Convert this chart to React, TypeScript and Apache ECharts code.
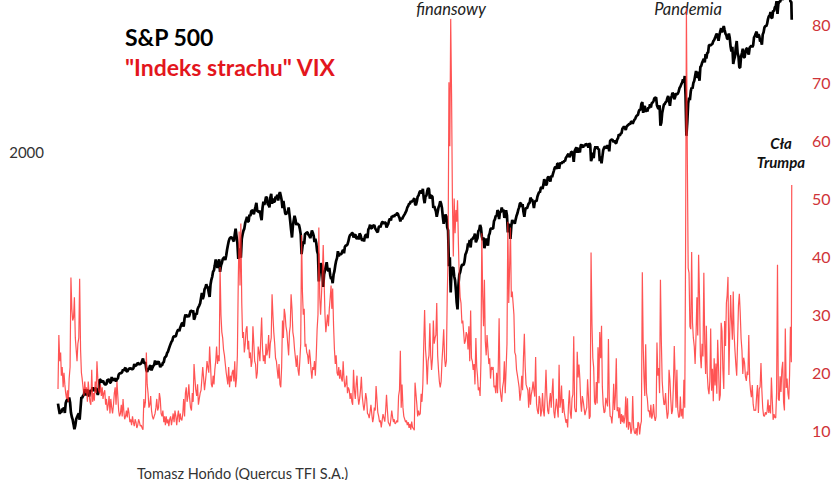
import React, { useEffect, useRef } from 'react';
import * as echarts from 'echarts';

// Semi-monthly samples (1st and 16th of each month) from Jan 1990, last point 8 Apr 2025
const startYear = 1990;
const lastPointDate = [2025, 3, 8];

// S&P 500 index level
const spxValues = [
  353, 340, 329, 334, 332, 341, 339, 344, 331, 354, 361, 363, 358, 368, 356, 332, 322, 316, 306, 296, 304, 317, 322, 326,
  330, 316, 343, 369, 367, 373, 375, 390, 375, 377, 389, 381, 371, 384, 387, 385, 395, 386, 388, 392, 392, 382, 375, 384,
  417, 416, 409, 412, 413, 408, 403, 403, 404, 416, 415, 418, 408, 408, 424, 417, 414, 420, 418, 411, 419, 419, 431, 434,
  436, 436, 439, 447, 443, 449, 452, 442, 440, 445, 450, 449, 451, 448, 448, 450, 464, 458, 459, 462, 468, 465, 462, 465,
  466, 474, 482, 468, 467, 469, 446, 439, 451, 446, 457, 459, 444, 452, 458, 461, 475, 466, 463, 470, 472, 465, 454, 460,
  459, 468, 470, 484, 487, 490, 501, 505, 515, 524, 533, 541, 545, 558, 562, 561, 562, 575, 584, 588, 582, 596, 605, 614,
  616, 600, 636, 653, 640, 650, 646, 642, 654, 670, 669, 665, 671, 630, 640, 660, 652, 677, 687, 694, 705, 731, 757, 726,
  741, 776, 786, 804, 791, 787, 757, 737, 801, 829, 848, 878, 885, 916, 954, 925, 899, 930, 955, 876, 915, 930, 955, 963,
  970, 950, 980, 1020, 1049, 1080, 1102, 1110, 1112, 1105, 1091, 1080, 1134, 1180, 1121, 1070, 957, 1030, 990, 965, 1099, 1135, 1164, 1180,
  1229, 1250, 1280, 1240, 1238, 1300, 1286, 1330, 1335, 1340, 1302, 1340, 1373, 1410, 1329, 1330, 1320, 1335, 1283, 1250, 1363, 1420, 1389, 1420,
  1469, 1460, 1394, 1390, 1366, 1460, 1499, 1400, 1452, 1420, 1421, 1470, 1455, 1490, 1431, 1490, 1518, 1480, 1437, 1360, 1429, 1370, 1315, 1300,
  1320, 1320, 1366, 1300, 1240, 1170, 1110, 1200, 1249, 1290, 1256, 1210, 1224, 1215, 1211, 1180, 1134, 990, 1041, 1080, 1060, 1140, 1139, 1150,
  1148, 1130, 1122, 1105, 1130, 1165, 1147, 1125, 1076, 1100, 1067, 1010, 990, 820, 880, 930, 916, 870, 790, 860, 886, 910, 936, 890,
  880, 900, 856, 834, 841, 810, 860, 880, 917, 945, 964, 1010, 975, 990, 990, 990, 1008, 1020, 996, 1040, 1051, 1050, 1058, 1080,
  1112, 1130, 1131, 1145, 1145, 1110, 1126, 1135, 1107, 1100, 1121, 1095, 1141, 1130, 1102, 1085, 1104, 1080, 1115, 1130, 1130, 1105, 1174, 1185,
  1212, 1185, 1181, 1205, 1204, 1210, 1181, 1170, 1157, 1150, 1192, 1200, 1191, 1215, 1234, 1235, 1220, 1230, 1229, 1190, 1207, 1220, 1249, 1265,
  1248, 1285, 1280, 1290, 1281, 1300, 1295, 1310, 1311, 1290, 1270, 1240, 1270, 1260, 1277, 1290, 1304, 1320, 1336, 1365, 1378, 1400, 1401, 1425,
  1418, 1430, 1438, 1456, 1399, 1387, 1421, 1470, 1482, 1512, 1531, 1522, 1503, 1552, 1455, 1406, 1474, 1480, 1527, 1560, 1549, 1450, 1481, 1480,
  1468, 1360, 1379, 1350, 1331, 1280, 1323, 1365, 1386, 1425, 1400, 1360, 1280, 1220, 1267, 1300, 1283, 1190, 1166, 910, 969, 760, 896, 900,
  903, 850, 826, 770, 710, 676, 800, 860, 873, 900, 919, 920, 919, 940, 987, 1000, 1021, 1065, 1057, 1090, 1036, 1100, 1096, 1110,
  1115, 1140, 1074, 1090, 1104, 1160, 1169, 1210, 1187, 1120, 1089, 1110, 1031, 1065, 1102, 1080, 1049, 1125, 1141, 1176, 1183, 1180, 1181, 1242,
  1258, 1290, 1286, 1340, 1327, 1260, 1326, 1320, 1364, 1330, 1345, 1270, 1321, 1340, 1292, 1150, 1219, 1200, 1100, 1200, 1253, 1230, 1247, 1220,
  1258, 1290, 1312, 1345, 1366, 1404, 1408, 1370, 1398, 1325, 1280, 1340, 1362, 1355, 1379, 1405, 1407, 1461, 1441, 1440, 1412, 1360, 1416, 1430,
  1426, 1470, 1498, 1520, 1515, 1560, 1569, 1552, 1598, 1660, 1631, 1590, 1606, 1680, 1686, 1660, 1633, 1700, 1682, 1720, 1757, 1795, 1806, 1780,
  1848, 1845, 1783, 1840, 1859, 1845, 1872, 1860, 1884, 1880, 1924, 1940, 1960, 1975, 1931, 1955, 2003, 2000, 1972, 1870, 2018, 2040, 2068, 1990,
  2059, 2020, 1995, 2095, 2105, 2080, 2068, 2100, 2086, 2120, 2107, 2100, 2063, 2125, 2104, 1880, 1915, 1990, 1920, 2030, 2079, 2050, 2080, 2040,
  2044, 1880, 1940, 1850, 1932, 2025, 2060, 2080, 2065, 2050, 2097, 2070, 2010, 2160, 2174, 2180, 2171, 2140, 2168, 2130, 2126, 2180, 2199, 2260,
  2239, 2270, 2279, 2350, 2364, 2385, 2363, 2330, 2384, 2400, 2412, 2430, 2423, 2460, 2470, 2430, 2472, 2500, 2519, 2557, 2575, 2585, 2648, 2680,
  2674, 2790, 2824, 2620, 2714, 2750, 2641, 2680, 2648, 2720, 2705, 2780, 2718, 2800, 2816, 2840, 2902, 2905, 2914, 2760, 2712, 2700, 2760, 2400,
  2450, 2620, 2704, 2780, 2784, 2820, 2834, 2900, 2946, 2850, 2752, 2890, 2942, 3010, 2980, 2880, 2926, 3000, 2977, 2990, 3038, 3110, 3141, 3190,
  3231, 3300, 3226, 3380, 2954, 2237, 2470, 2800, 2912, 2860, 3044, 3120, 3100, 3220, 3271, 3380, 3500, 3340, 3363, 3480, 3270, 3600, 3622, 3700,
  3756, 3800, 3714, 3930, 3811, 3960, 3973, 4180, 4181, 4170, 4204, 4220, 4298, 4330, 4395, 4470, 4523, 4430, 4308, 4470, 4605, 4700, 4567, 4670,
  4766, 4640, 4516, 4470, 4374, 4360, 4530, 4390, 4132, 4000, 4132, 3670, 3785, 3860, 4130, 4300, 3955, 3870, 3586, 3580, 3872, 3960, 4080, 3850,
  3840, 3990, 4077, 4090, 3970, 3920, 4109, 4140, 4169, 4120, 4180, 4410, 4450, 4530, 4589, 4400, 4508, 4450, 4288, 4320, 4194, 4500, 4568, 4720,
  4770, 4760, 4846, 5005, 5096, 5120, 5254, 5050, 5036, 5300, 5278, 5430, 5460, 5660, 5186, 5550, 5648, 5630, 5762, 5840, 5705, 5870, 6032, 6070,
  5882, 5950, 6041, 6114, 5955, 5640, 5633, 4982,
];

// VIX ("Indeks strachu")
const vixValues = [
  17.2, 26.5, 22, 23.5, 19.5, 21, 17.5, 20, 18, 16.5, 15.5, 17, 15, 19, 21, 36.4, 31, 29, 29.5, 33, 26, 24, 22, 25,
  26, 36.2, 24, 20, 19, 17.5, 16, 18.5, 16.5, 17.5, 15, 18.5, 16.5, 15, 14.5, 20.5, 15, 16.5, 15.2, 18.5, 16.5, 22, 19, 17,
  16.5, 18, 16, 17.5, 15.5, 16.5, 17, 14.5, 15.5, 13.5, 14.5, 16, 13, 15.5, 14, 13, 14.5, 16.5, 17.5, 14.5, 18.5, 16, 13.5, 12.5,
  13, 14.5, 12.5, 15.5, 13.5, 12, 12.5, 13.5, 12.3, 14, 13, 11.5, 12, 11, 12.5, 11.5, 10.8, 12, 11.5, 10.5, 11, 12, 11.5, 10.8,
  11, 10.5, 10.2, 15.5, 14, 15, 23.5, 18, 16.5, 14, 14.5, 16, 13.5, 12.5, 12, 12.5, 13, 14, 15.5, 13.5, 14, 16.5, 15.5, 13,
  12.5, 13.5, 11.5, 12.5, 11, 12.5, 11.3, 12, 10.8, 12, 12.5, 11, 12, 13, 11.5, 13.5, 12.5, 11, 12.5, 13.5, 11.5, 13, 12, 11.8,
  13, 15.5, 12.5, 16.5, 17.5, 15, 16, 18, 15.5, 14, 13.5, 16.5, 15, 21.5, 19, 17, 16, 18, 14.5, 15.5, 16.5, 17, 19, 21,
  19, 17, 18.5, 20, 22, 21, 20, 24.5, 21.5, 18, 17.5, 19.5, 18, 20.5, 22, 24.5, 21.5, 23, 22, 38.2, 30, 27, 26, 24,
  23, 21.5, 20, 19, 18, 21, 17.5, 19.5, 18.5, 20, 20.5, 18.5, 22, 17.5, 19, 23, 36, 44.3, 35, 45.7, 32, 26, 27, 23.5,
  25, 27.5, 28, 24, 25.5, 22.5, 23.5, 21, 22, 28, 25, 22, 21.5, 19, 20, 24.5, 23.5, 22, 26, 29.5, 24, 22, 23, 21.5,
  25, 23, 24, 26.5, 22.5, 25, 26, 33.5, 30, 27, 25, 22.5, 22, 20.5, 19, 21.5, 18, 17.5, 21, 29, 26, 31, 30, 28,
  27, 25, 23, 27, 28, 33.5, 31, 27, 26, 24, 22.5, 21, 23, 20.5, 19.5, 22, 25, 43.7, 34, 30, 31, 24.5, 25, 23.5,
  23, 21.5, 24, 22.5, 20.5, 19, 21, 20.5, 22, 19.5, 23, 27.5, 30, 45, 33, 30, 33.5, 37, 42, 36, 30, 27, 28.5, 30,
  28, 31, 33, 35, 31, 34.5, 28, 24, 21.5, 23, 20, 19.5, 21, 19, 20.5, 19, 18.5, 22, 19, 17.5, 18, 19.5, 16.5, 17.5,
  17, 15.5, 16.5, 15, 14.5, 20.5, 17, 15.5, 18, 19.5, 16, 14.5, 15.5, 17, 19.3, 16, 14.5, 13.5, 14.8, 16.5, 15.5, 13, 12.8, 12.2,
  13.3, 14.5, 12.8, 11.5, 12.2, 14, 13.5, 17.7, 15.5, 13.2, 12.5, 11.5, 11.8, 10.6, 11.8, 12.9, 12.2, 11.6, 13.5, 16.2, 13.5, 11.5, 11.2, 10.8,
  12, 13.5, 12.3, 11.5, 12, 11.2, 11.4, 11.8, 11.5, 16, 17, 23.8, 14, 18, 14, 12.5, 12, 11.5, 11.8, 11, 11.5, 10.5, 11.2, 10.2,
  11.6, 10.6, 10.4, 10.1, 18.3, 16.5, 14.6, 12.5, 13.5, 12.7, 13, 16.4, 15, 18, 25, 30.8, 24, 22, 18, 22, 23, 28.5, 23, 20.5,
  22.5, 29, 25, 26, 26.5, 32, 23, 20.5, 18.5, 17.5, 18.5, 22, 24.5, 27.5, 22.5, 21, 22, 33, 40, 70, 59, 80.9, 68, 50,
  40, 50, 44, 48, 46, 49.7, 42, 36, 33, 32, 28.5, 29, 27, 25, 25.5, 27, 26.5, 24, 28, 22, 30.7, 22.5, 22, 20.5,
  21.5, 18, 26, 21, 19.5, 17, 17.5, 16, 22, 44, 33, 28, 36, 25.5, 23, 26.5, 24, 21.5, 22.5, 19, 21, 20.5, 21, 17.5,
  17.8, 16.5, 20, 16.5, 21, 29.4, 17.5, 16, 15, 17.5, 18.5, 22, 16.5, 20.5, 25, 46, 32, 38, 45, 33, 34, 32, 30, 23.5,
  23, 20.5, 19.5, 18.5, 17.5, 15.2, 16.5, 19.5, 17, 22.5, 26.7, 21, 18, 17.5, 17, 14, 17.5, 14.5, 16.3, 17, 18.5, 17, 15.9, 22.7,
  14.6, 13.5, 12.9, 16, 15.5, 12.5, 13.5, 16.5, 13.5, 12.5, 16.3, 20.5, 16, 13.5, 12.9, 15, 16.5, 14, 16.6, 19, 13.3, 12.2, 14, 15.5,
  13.8, 12.3, 21.4, 14, 15, 17.8, 13.1, 15.5, 13.3, 12.4, 11.4, 12, 10.6, 14.5, 17, 13.2, 12.1, 15.6, 16.3, 26.3, 14, 13.3, 13.3, 23.6,
  19.2, 21.4, 18.9, 14.8, 13.3, 16, 15.1, 13.9, 12.7, 13.4, 14, 18.9, 16.1, 12.1, 12.5, 40.7, 28.4, 22.5, 20.9, 15, 14.5, 18.4, 14.7, 24.4,
  18.2, 27, 22.5, 28.1, 17.7, 14.5, 13.1, 13.3, 15.7, 15, 14.2, 25.8, 15.6, 12.5, 12.4, 11.3, 13.5, 18.1, 13.6, 16, 22.5, 13.4, 14.1, 12.2,
  14, 11.2, 12.9, 11.5, 12.7, 11.3, 12.4, 15.9, 10.6, 15.6, 10.2, 11.5, 11.4, 9.5, 10.3, 16, 10.6, 9.7, 9.5, 10.5, 9.2, 11.5, 11.3, 9.4,
  11, 11.7, 37.3, 25, 19.5, 16, 24.9, 16.5, 15.5, 13.4, 13.5, 12.3, 14.5, 12.1, 12.8, 14.6, 12.5, 11.7, 12.5, 25.2, 19.5, 20.8, 16.5, 36,
  25.4, 18.6, 16.1, 14.5, 14.6, 16.5, 13.7, 12.1, 13.1, 20.5, 18.7, 15.4, 12.9, 13.5, 17.9, 24.6, 18.9, 14, 20.5, 13.7, 12.3, 12.5, 15.9, 12.5,
  13.8, 12.1, 18.8, 14, 40.1, 82.7, 57, 38, 37.2, 28, 27.5, 40.8, 28.6, 26, 24.5, 21.5, 26.4, 33, 26.4, 40.3, 33, 23, 20.8, 25,
  22.8, 37.2, 25, 19.8, 28.1, 20, 17.3, 16.3, 18.6, 27.6, 16.9, 20.7, 15.1, 22.5, 17.8, 21.6, 16.4, 25.7, 21, 15.2, 16.2, 28.6, 27.2, 20.6,
  17.2, 28.9, 24.6, 32, 33.3, 36.5, 19.6, 27, 33.4, 29, 25.7, 34, 26.7, 23.9, 21.4, 19.5, 25.6, 31.6, 33.6, 30.5, 25.9, 23.9, 19.8, 22.6,
  21.7, 19.4, 18.6, 20.2, 19.6, 26.5, 18.7, 16.9, 15.8, 17.9, 14.6, 13.5, 13.6, 13.5, 16.1, 17.9, 13.1, 17.2, 17.6, 21.7, 16.9, 13.9, 12.6, 12.5,
  13.2, 12.8, 13.4, 15.4, 13.1, 14.4, 13, 19.2, 15.4, 11.9, 12.9, 12.3, 12.2, 16.5, 38.6, 15.5, 15.2, 19.4, 16.7, 20.5, 21.9, 14.9, 13.5, 27.6,
  17.4, 19, 16.4, 15.4, 19.6, 27.9, 21.8, 52.3,
];

const spxTickLabels = [2000];
const vixTickLabels = [10, 20, 30, 40, 50, 60, 70, 80];

function sampleDate(i: number, n: number): number {
  if (i === n - 1) return new Date(lastPointDate[0], lastPointDate[1], lastPointDate[2]).getTime();
  const y = startYear + Math.floor(i / 24);
  const m = Math.floor((i % 24) / 2);
  const d = i % 2 === 0 ? 1 : 16;
  return new Date(y, m, d).getTime();
}

const toSeries = (vals: number[]) => vals.map((v, i) => [sampleDate(i, vals.length), v]);

export default function App() {
  const ref = useRef<HTMLDivElement>(null);
  useEffect(() => {
    if (!ref.current) return;
    const chart = echarts.init(ref.current, null, { renderer: 'svg' });
    const font = 'Lato';
    chart.setOption({
      animation: false,
      backgroundColor: '#ffffff',
      grid: { left: 58, right: 33, top: -34, bottom: -9, containLabel: false, outerBoundsMode: 'none' },
      xAxis: {
        type: 'time',
        min: new Date(1990, 0, 1).getTime(),
        max: new Date(2026, 0, 1).getTime(),
        show: false,
      },
      yAxis: [
        {
          type: 'log',
          logBase: 10,
          min: 196,
          max: 7214,
          position: 'left',
          axisLine: { show: false },
          axisTick: { show: false },
          splitLine: { show: false },
          axisLabel: {
            customValues: spxTickLabels,
            formatter: (v: number) => String(Math.round(v)),
            color: '#333333',
            fontSize: 15,
            fontFamily: font,
            margin: 14,
          },
        },
        {
          type: 'value',
          min: 0,
          max: 90,
          interval: 10,
          position: 'right',
          axisLine: { show: false },
          axisTick: { show: false },
          splitLine: { show: false },
          axisLabel: { customValues: vixTickLabels, color: '#cf3338', fontSize: 16, fontFamily: font, margin: 5 },
        },
      ],
      series: [
        {
          name: 'S&P 500',
          type: 'line',
          yAxisIndex: 0,
          data: toSeries(spxValues),
          showSymbol: false,
          symbol: 'none',
          lineStyle: { color: '#000000', width: 2.7 },
          z: 2,
        },
        {
          name: 'VIX',
          type: 'line',
          yAxisIndex: 1,
          data: toSeries(vixValues),
          showSymbol: false,
          symbol: 'none',
          lineStyle: { color: '#ff2424', width: 1.2, opacity: 0.78 },
          z: 3,
        },
      ],
      graphic: [
        { type: 'text', x: 125, y: 37, style: { text: 'S&P 500', fill: '#000000', fontFamily: font, fontWeight: 'bold', fontSize: 23, align: 'left', verticalAlign: 'middle' } },
        { type: 'text', x: 125, y: 67, style: { text: '"Indeks strachu" VIX', fill: '#e3161d', fontFamily: font, fontWeight: 'bold', fontSize: 23, align: 'left', verticalAlign: 'middle' } },
        { type: 'text', x: 451, y: 9, style: { text: 'finansowy', fill: '#222222', fontFamily: font, fontStyle: 'italic', fontSize: 16.5, align: 'center', verticalAlign: 'middle' } },
        { type: 'text', x: 688, y: 9, style: { text: 'Pandemia', fill: '#222222', fontFamily: font, fontStyle: 'italic', fontSize: 16.5, align: 'center', verticalAlign: 'middle' } },
        { type: 'text', x: 781, y: 152, style: { text: 'Cła\nTrumpa', fill: '#111111', fontFamily: font, fontStyle: 'italic', fontWeight: 'bold', fontSize: 15, lineHeight: 19, align: 'center', verticalAlign: 'middle' } },
        { type: 'text', x: 137, y: 473, style: { text: 'Tomasz Hońdo (Quercus TFI S.A.)', fill: '#333333', fontFamily: font, fontSize: 14.5, align: 'left', verticalAlign: 'middle' } },
      ],
    });
    return () => chart.dispose();
  }, []);
  return <div ref={ref} style={{ position: 'absolute', left: 0, top: 0, width: 840, height: 480 }} />;
}
